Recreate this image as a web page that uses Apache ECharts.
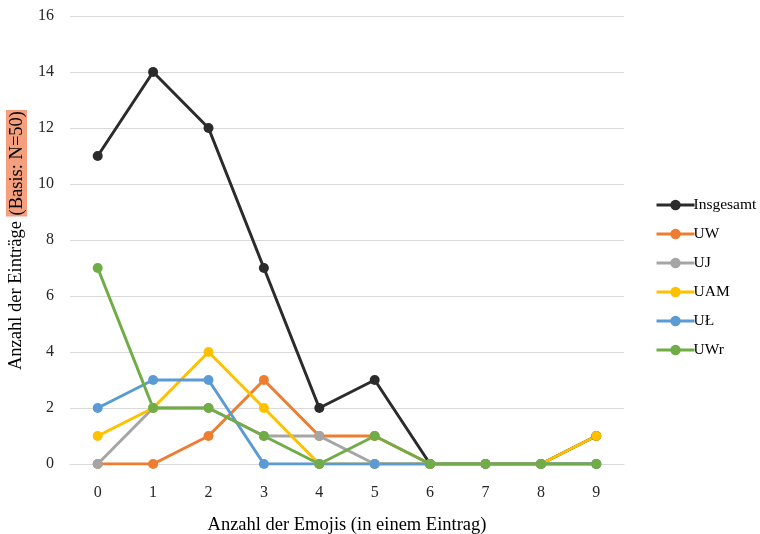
<!DOCTYPE html>
<html><head><meta charset="utf-8">
<script src="https://cdn.jsdelivr.net/npm/echarts@6/dist/echarts.min.js"></script>
<style>html,body{margin:0;padding:0;background:#fff}#c{width:760px;height:534px}</style>
</head><body><div id="c"></div>
<script>
const categories = ['0','1','2','3','4','5','6','7','8','9'];
const seriesNames = ['Insgesamt','UW','UJ','UAM','UŁ','UWr'];
const insgesamt = [11,14,12,7,2,3,0,0,0,1];
const uw  = [0,0,1,3,1,1,0,0,0,0];
const uj  = [0,2,2,1,1,0,0,0,0,0];
const uam = [1,2,4,2,0,0,0,0,0,1];
const ul  = [2,3,3,0,0,0,0,0,0,0];
const uwr = [7,2,2,1,0,1,0,0,0,0];
const colors = ['#2b2b2b','#ED7D31','#A5A5A5','#FFC000','#5B9BD5','#70AD47'];
const values = [insgesamt, uw, uj, uam, ul, uwr];
const font = 'Liberation Serif, Times New Roman, serif';
const chart = echarts.init(document.getElementById('c'));
chart.setOption({
  animation:false,
  color: colors,
  textStyle:{fontFamily:font},
  grid:{left:70,right:136,top:16,bottom:70,containLabel:false,outerBoundsMode:'none'},
  legend:{orient:'vertical',left:650,top:192,itemWidth:38,itemHeight:13,itemGap:13,
    lineStyle:{width:3},
    textStyle:{fontFamily:font,fontSize:15.5,color:'#000',padding:[0,0,0,-6]},
    data:seriesNames},
  xAxis:{type:'category',data:categories,boundaryGap:true,
    axisLine:{lineStyle:{color:'#d9d9d9',width:1}},axisTick:{show:false},
    axisLabel:{fontFamily:font,fontSize:16,color:'#262626',margin:21},
    name:'Anzahl der Emojis (in einem Eintrag)',nameLocation:'middle',nameGap:52,
    nameTextStyle:{fontFamily:font,fontSize:18.5,color:'#000'}},
  yAxis:{type:'value',min:0,max:16,interval:2,
    axisLine:{show:false},axisTick:{show:false},
    splitLine:{lineStyle:{color:'#d9d9d9',width:1}},
    axisLabel:{fontFamily:font,fontSize:16,color:'#262626',margin:16},
    name:'{a|Anzahl der Einträge }{b|(Basis: N=50)}',nameLocation:'middle',nameGap:43,nameRotate:90,
    nameTextStyle:{fontFamily:font,fontSize:18.5,color:'#000',
      rich:{a:{fontFamily:font,fontSize:18.5,color:'#000'},
            b:{fontFamily:font,fontSize:18.5,color:'#000',backgroundColor:'#F4A07F',padding:[2,1,0,1]}}}},
  series: seriesNames.map((n,i)=>({name:n,type:'line',data:values[i],symbol:'circle',symbolSize:10,
    lineStyle:{width:3,color:colors[i]},itemStyle:{color:colors[i]}}))
});
</script></body></html>
